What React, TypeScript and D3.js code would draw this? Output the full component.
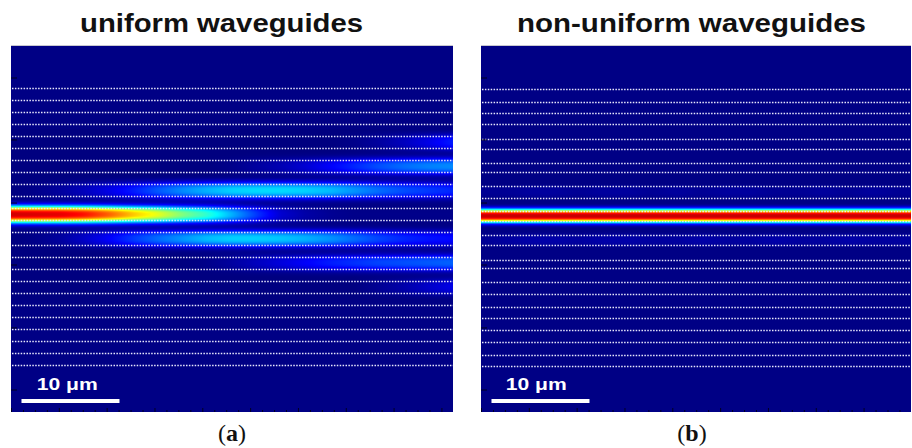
import React from "react";
import * as d3 from "d3";

const W = 912;
const H = 448;

// propagation positions where the intensity was read (μm)
const zSamples = [0, 2.5, 5, 7.5, 10, 12.5, 15, 17.5, 20, 22.5, 25, 27.5, 30, 32.5, 35, 37.5, 40, 42.5, 45];

// waveguide boundaries (μm from top of field), pairs = one waveguide
const uniformEdges = [4.29, 5.52, 6.75, 7.98, 9.21, 10.44, 11.66, 12.9, 14.13, 15.36, 16.59, 17.81, 19.05, 20.28, 21.51, 22.74, 23.96, 25.2, 26.42, 27.66, 28.89, 30.11, 31.35, 32.57];
const nonUniformEdges = [4.39, 5.69, 6.87, 8.0, 9.5, 10.49, 11.92, 12.9, 14.27, 15.5, 16.82, 17.88, 19.31, 20.33, 21.86, 22.71, 24.08, 25.33, 26.63, 27.75, 29.01, 30.27, 31.56, 32.66];

// normalized intensity (0..1) along each guide, uniform array
const uniformGuide2 = [0, 0, 0, 0, 0, 0, 0, 0, 0, 0, 0, 0, 0, 0, 0.01, 0.03, 0.06, 0.1, 0.15];
const uniformGuide3 = [0, 0, 0, 0, 0, 0, 0, 0, 0, 0.01, 0.03, 0.05, 0.08, 0.12, 0.16, 0.2, 0.23, 0.25, 0.26];
const uniformGuide4 = [0, 0.01, 0.03, 0.06, 0.1, 0.15, 0.21, 0.26, 0.3, 0.33, 0.34, 0.34, 0.33, 0.31, 0.27, 0.23, 0.2, 0.18, 0.16];
const uniformGuide5 = [0.92, 0.91, 0.9, 0.86, 0.78, 0.68, 0.6, 0.5, 0.42, 0.3, 0.18, 0.08, 0.04, 0.02, 0.01, 0.01, 0.01, 0.01, 0.01];
const uniformGuide6 = [0, 0.01, 0.03, 0.07, 0.12, 0.18, 0.23, 0.27, 0.31, 0.33, 0.33, 0.32, 0.3, 0.27, 0.23, 0.19, 0.16, 0.14, 0.13];
const uniformGuide7 = [0, 0, 0, 0, 0, 0, 0, 0, 0.01, 0.03, 0.06, 0.09, 0.12, 0.15, 0.17, 0.19, 0.2, 0.21, 0.22];
const uniformGuide8 = [0, 0, 0, 0, 0, 0, 0, 0, 0, 0, 0, 0, 0, 0, 0, 0.02, 0.04, 0.07, 0.1];

// non-uniform array: light stays in the excited guide
const nonUniformGuide4 = [0.02, 0.02, 0.03, 0.03, 0.02, 0.03, 0.03, 0.02, 0.03, 0.02, 0.03, 0.03, 0.02, 0.02, 0.03, 0.02, 0.03, 0.02, 0.02];
const nonUniformGuide5 = [0.93, 0.93, 0.93, 0.93, 0.93, 0.93, 0.93, 0.93, 0.93, 0.93, 0.93, 0.93, 0.93, 0.93, 0.93, 0.93, 0.93, 0.93, 0.93];
const nonUniformGuide6 = [0.02, 0.03, 0.04, 0.04, 0.03, 0.04, 0.04, 0.03, 0.03, 0.04, 0.03, 0.03, 0.04, 0.03, 0.03, 0.04, 0.03, 0.03, 0.03];

const axisTicksY = [3.27, 9.6, 16.04, 22.37, 28.8, 35.14];

const titles = ["uniform waveguides", "non-uniform waveguides"];
const panelLabels = ["a", "b"];
const scaleBarLabel = "10 μm";

function jet(t: number): string {
  const c = (v: number) => Math.max(0, Math.min(1, v));
  const x = c(t);
  const r = c(1.5 - Math.abs(4 * x - 3));
  const g = c(1.5 - Math.abs(4 * x - 2));
  const b = c(1.5 - Math.abs(4 * x - 1));
  return d3.rgb(r * 255, g * 255, b * 255).formatHex();
}

type Guide = { index: number; values: number[] };

type PanelSpec = {
  id: string;
  x0: number;
  x1: number;
  edges: number[];
  guides: Guide[];
  halfWidth: number;
  title: string;
  titleX: number;
  titleLen: number;
  label: string;
  labelX: number;
  textX: number;
};

const TOP = 46;
const BOTTOM = 412;
const PX_PER_UM = 9.8;
const FIELD_HEIGHT_UM = (BOTTOM - TOP) / 9.79;

function Panel({ p }: { p: PanelSpec }) {
  const zMax = (p.x1 - p.x0) / PX_PER_UM;
  const x = d3.scaleLinear().domain([0, zMax]).range([p.x0, p.x1]);
  const y = d3.scaleLinear().domain([0, FIELD_HEIGHT_UM]).range([TOP, BOTTOM]);

  const centers = d3.range(p.edges.length / 2).map((k) => (p.edges[2 * k] + p.edges[2 * k + 1]) / 2);
  const amps = p.guides.map((g) => ({
    c: centers[g.index],
    a: d3.scaleLinear().domain(zSamples).range(g.values).clamp(true),
  }));
  const profile = (d: number) => Math.exp(-Math.pow(Math.abs(d) / p.halfWidth, 2.6));

  const zStops = d3.range(0, zMax + 0.001, 0.6);
  const rows: { py: number; id: string; stops: { o: number; c: string }[] }[] = [];
  for (let py = TOP; py < BOTTOM; py++) {
    const yu = y.invert(py + 0.5);
    let rowMax = 0;
    const vals = zStops.map((z) => {
      let v = 0;
      for (const g of amps) v += g.a(z) * profile(yu - g.c);
      rowMax = Math.max(rowMax, v);
      return v;
    });
    if (rowMax < 0.004) continue;
    rows.push({
      py,
      id: `${p.id}-r${py}`,
      stops: vals.map((v, i) => ({ o: zStops[i] / zMax, c: jet(v) })),
    });
  }

  const xTicks = d3.range(0, zMax, 1.22);

  return (
    <g>
      <text
        x={p.titleX}
        y={32}
        fontFamily="'Liberation Sans', Arial, sans-serif"
        fontWeight="bold"
        fontSize={26}
        textLength={p.titleLen}
        lengthAdjust="spacingAndGlyphs"
        fill="#111"
      >
        {p.title}
      </text>
      <line x1={p.x0} x2={p.x1} y1={TOP - 0.5} y2={TOP - 0.5} stroke="#c8c8d0" strokeWidth={1} />
      <rect x={p.x0} y={TOP} width={p.x1 - p.x0} height={BOTTOM - TOP} fill={jet(0.005)} />
      <defs>
        {rows.map((r) => (
          <linearGradient key={r.id} id={r.id} x1="0" x2="1" y1="0" y2="0">
            {r.stops.map((s, i) => (
              <stop key={i} offset={s.o} stopColor={s.c} />
            ))}
          </linearGradient>
        ))}
      </defs>
      {rows.map((r) => (
        <rect
          key={r.id}
          x={p.x0}
          y={r.py}
          width={p.x1 - p.x0}
          height={1}
          fill={`url(#${r.id})`}
          shapeRendering="crispEdges"
        />
      ))}
      {p.edges.map((e, i) => (
        <line
          key={i}
          x1={p.x0 + 1}
          x2={p.x1}
          y1={Math.round(y(e)) + 0.5}
          y2={Math.round(y(e)) + 0.5}
          stroke="#e8e8fc"
          strokeWidth={1.4}
          strokeDasharray="1.5 1.4"
        />
      ))}
      {axisTicksY.map((t, i) => (
        <line key={i} x1={p.x0} x2={p.x0 + 6} y1={y(t)} y2={y(t)} stroke="#000022" strokeWidth={1} />
      ))}
      {xTicks.map((t, i) => (
        <line
          key={i}
          x1={x(t) + 0.5}
          x2={x(t) + 0.5}
          y1={BOTTOM}
          y2={BOTTOM - (i % 4 === 0 ? 4 : 2)}
          stroke="#000022"
          strokeWidth={1}
        />
      ))}
      <rect x={x(1.07)} y={399} width={x(11.07) - x(1.07)} height={4} fill="#ffffff" />
      <text
        x={p.textX}
        y={390}
        fontFamily="'Liberation Sans', Arial, sans-serif"
        fontWeight="bold"
        fontSize={17}
        textLength={61}
        lengthAdjust="spacingAndGlyphs"
        fill="#ffffff"
      >
        {scaleBarLabel}
      </text>
      <text
        x={p.labelX}
        y={441}
        textAnchor="middle"
        fontFamily="'Liberation Serif', 'DejaVu Serif', serif"
        fontSize={24}
        fill="#111"
      >
        (<tspan fontWeight="bold">{p.label}</tspan>)
      </text>
    </g>
  );
}

export default function App() {
  const panels: PanelSpec[] = [
    {
      id: "pa",
      x0: 11,
      x1: 453,
      edges: uniformEdges,
      guides: [
        { index: 2, values: uniformGuide2 },
        { index: 3, values: uniformGuide3 },
        { index: 4, values: uniformGuide4 },
        { index: 5, values: uniformGuide5 },
        { index: 6, values: uniformGuide6 },
        { index: 7, values: uniformGuide7 },
        { index: 8, values: uniformGuide8 },
      ],
      halfWidth: 0.85,
      title: titles[0],
      titleX: 80,
      titleLen: 283,
      label: panelLabels[0],
      labelX: 232,
      textX: 36.7,
    },
    {
      id: "pb",
      x0: 481,
      x1: 911,
      edges: nonUniformEdges,
      guides: [
        { index: 4, values: nonUniformGuide4 },
        { index: 5, values: nonUniformGuide5 },
        { index: 6, values: nonUniformGuide6 },
      ],
      halfWidth: 0.68,
      title: titles[1],
      titleX: 517,
      titleLen: 349,
      label: panelLabels[1],
      labelX: 692,
      textX: 505.7,
    },
  ];
  return (
    <svg width={W} height={H} style={{ display: "block", position: "absolute", left: 0, top: 0 }}>
      <rect x={0} y={0} width={W} height={H} fill="#ffffff" />
      {panels.map((p) => (
        <Panel key={p.id} p={p} />
      ))}
    </svg>
  );
}
